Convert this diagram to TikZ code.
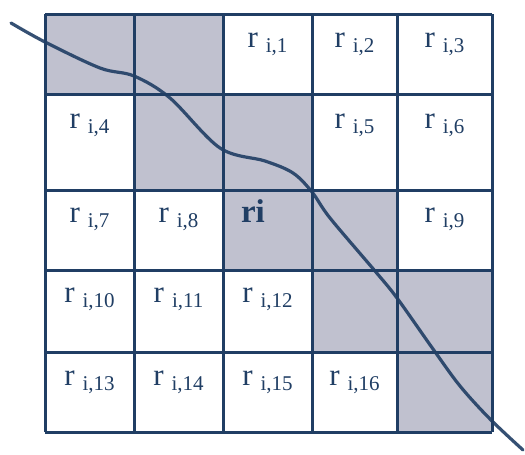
\documentclass[tikz,border=0pt]{standalone}
\usepackage{fontspec}
\setmainfont{Liberation Serif}
\definecolor{navy}{RGB}{32,62,100}
\definecolor{cellgray}{RGB}{192,193,207}
\tikzset{
  gridline/.style={draw=navy, line width=3pt},
  shade/.style={fill=cellgray},
  lbl/.style={anchor=base, text=navy, inner sep=0pt, font=\fontsize{31}{31}\selectfont},
  curveline/.style={draw=navy, line width=3.2pt, line cap=round, opacity=0.9}
}
\newcommand{\rlab}[1]{r\hspace{8pt}\raisebox{-5pt}{\fontsize{21}{21}\selectfont #1}}
\begin{document}
\begin{tikzpicture}[x=1pt,y=-1pt]
\useasboundingbox (0,0) rectangle (525,455);
\fill[white] (0,0) rectangle (525,455);
% shaded cells
\fill[shade] (45,14) rectangle (223,94);
\fill[shade] (134,94) rectangle (312,190);
\fill[shade] (223,190) rectangle (397,270);
\fill[shade] (312,270) rectangle (492,352);
\fill[shade] (397,352) rectangle (492,432);
% grid
\foreach \x in {45,134,223,312,397,492} \draw[gridline] (\x,14) -- (\x,432);
\foreach \y in {14,94,190,270,352,432} \draw[gridline] (45,\y) -- (492,\y);
% labels (centre x, top+33)
\node[lbl] (r1) at (267.5,47) {\rlab{i,1}};
\node[lbl] (r2) at (354.5,47) {\rlab{i,2}};
\node[lbl] (r3) at (444.5,47) {\rlab{i,3}};
\node[lbl] (r4) at (89.5,128) {\rlab{i,4}};
\node[lbl] (r5) at (354.5,128) {\rlab{i,5}};
\node[lbl] (r6) at (444.5,128) {\rlab{i,6}};
\node[lbl] (r7) at (89.5,222) {\rlab{i,7}};
\node[lbl] (r8) at (178.5,222) {\rlab{i,8}};
\node[lbl, font=\fontsize{33}{33}\selectfont\bfseries] (ri) at (253,222) {ri};
\node[lbl] (r9) at (444.5,222) {\rlab{i,9}};
\node[lbl] (r10) at (89.5,302) {\rlab{i,10}};
\node[lbl] (r11) at (178.5,302) {\rlab{i,11}};
\node[lbl] (r12) at (267.5,302) {\rlab{i,12}};
\node[lbl] (r13) at (89.5,385) {\rlab{i,13}};
\node[lbl] (r14) at (178.5,385) {\rlab{i,14}};
\node[lbl] (r15) at (267.5,385) {\rlab{i,15}};
\node[lbl] (r16) at (354.5,385) {\rlab{i,16}};
% curve
\draw[curveline] plot[smooth, tension=0.55] coordinates {(11,23) (45,42) (100,68) (134,76) (170,98) (220,148) (265,161) (293,173) (312,192) (330,218) (375,271) (397,298) (433,349) (460,386) (490,419) (523,450)};
\end{tikzpicture}
\end{document}
